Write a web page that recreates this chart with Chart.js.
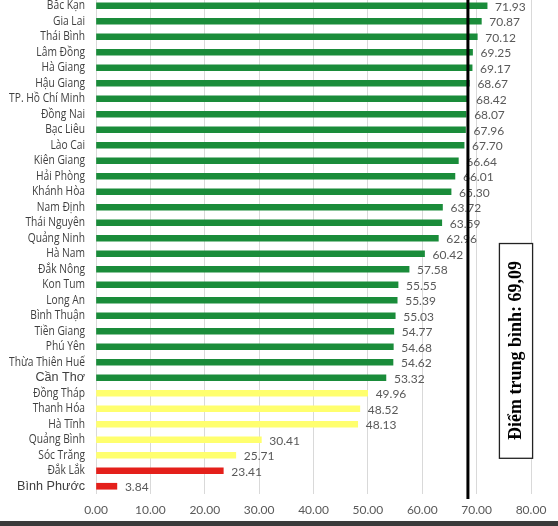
<!DOCTYPE html>
<html>
<head>
<meta charset="utf-8">
<script src="https://cdn.jsdelivr.net/npm/chart.js@4.4.1/dist/chart.umd.min.js"></script>
<style>
    html, body { margin: 0; padding: 0; background: #ffffff; overflow: hidden; }
    #wrap { position: absolute; left: 0; top: -2px; width: 558px; height: 527px; }
    #band { position: absolute; left: 0; top: 521px; width: 558px; height: 5px; background: #3b3b3b; }
</style>
</head>
<body>
<div id="wrap"><canvas id="scoreChart"></canvas></div>
<div id="band"></div>
<script>
// Provinces, top to bottom
const provinces = [
    'Bắc Kạn', 'Gia Lai', 'Thái Bình', 'Lâm Đồng', 'Hà Giang', 'Hậu Giang',
    'TP. Hồ Chí Minh', 'Đồng Nai', 'Bạc Liêu', 'Lào Cai', 'Kiên Giang', 'Hải Phòng',
    'Khánh Hòa', 'Nam Định', 'Thái Nguyên', 'Quảng Ninh', 'Hà Nam', 'Đắk Nông',
    'Kon Tum', 'Long An', 'Bình Thuận', 'Tiền Giang', 'Phú Yên', 'Thừa Thiên Huế',
    'Cần Thơ', 'Đồng Tháp', 'Thanh Hóa', 'Hà Tĩnh', 'Quảng Bình', 'Sóc Trăng',
    'Đắk Lắk', 'Bình Phước'
];

const scores = [
    71.93, 70.87, 70.12, 69.25, 69.17, 68.67,
    68.42, 68.07, 67.96, 67.70, 66.64, 66.01,
    65.30, 63.72, 63.59, 62.96, 60.42, 57.58,
    55.55, 55.39, 55.03, 54.77, 54.68, 54.62,
    53.32, 49.96, 48.52, 48.13, 30.41, 25.71,
    23.41, 3.84
];

const xTicks = [0, 10, 20, 30, 40, 50, 60, 70, 80];

// labels that were typed in a different font in the source
const oddFontLabels = ['Cần Thơ', 'Bình Phước'];

const avgLabel = 'Điểm trung bình: 69,09';
const avgLinePos = 68.4; // where the black line sits in the picture

function barColor(v) {
    if (v >= 50) return '#1a8c3a';
    if (v >= 25) return '#ffff6e';
    return '#e4201b';
}

// Province names, drawn a bit condensed (the source used Calibri)
const provinceLabels = {
    id: 'provinceLabels',
    afterDraw(chart) {
        const ctx = chart.ctx;
        const yScale = chart.scales.y;
        const right = chart.chartArea.left - 11;
        ctx.save();
        ctx.textAlign = 'right';
        ctx.textBaseline = 'middle';
        ctx.fillStyle = '#3f3f3f';
        provinces.forEach((name, i) => {
            const y = yScale.getPixelForValue(i);
            ctx.save();
            ctx.translate(right, y);
            if (oddFontLabels.includes(name)) {
                ctx.font = '13px "Liberation Sans"';
                ctx.scale(0.97, 1);
            } else {
                ctx.font = '12.5px "Open Sans"';
                ctx.scale(0.82, 1);
            }
            ctx.fillText(name, 0, 0);
            ctx.restore();
        });
        ctx.restore();
    }
};

// Value labels at the end of each bar
const valueLabels = {
    id: 'valueLabels',
    afterDatasetsDraw(chart) {
        const ctx = chart.ctx;
        const meta = chart.getDatasetMeta(0);
        ctx.save();
        ctx.font = '12px Lato';
        ctx.fillStyle = '#595959';
        ctx.textBaseline = 'middle';
        ctx.textAlign = 'left';
        meta.data.forEach((bar, i) => {
            ctx.fillText(scores[i].toFixed(2), bar.x + 8, bar.y + 1);
        });
        ctx.restore();
    }
};

// Average line and the boxed caption
const averageMark = {
    id: 'averageMark',
    afterDraw(chart) {
        const ctx = chart.ctx;
        const x = chart.scales.x;
        const area = chart.chartArea;
        const lx = x.getPixelForValue(avgLinePos);

        ctx.save();
        ctx.strokeStyle = '#000000';
        ctx.lineWidth = 3;
        ctx.beginPath();
        ctx.moveTo(lx, 0);
        ctx.lineTo(lx, area.bottom + 5);
        ctx.stroke();

        // caption box
        const bx1 = x.getPixelForValue(74.1);
        const bx2 = x.getPixelForValue(80.2);
        const by1 = area.top + (area.bottom - area.top) * 0.494;
        const by2 = area.top + (area.bottom - area.top) * 0.927;
        ctx.fillStyle = '#ffffff';
        ctx.fillRect(bx1, by1, bx2 - bx1, by2 - by1);
        ctx.lineWidth = 1.3;
        ctx.strokeStyle = '#222222';
        ctx.strokeRect(bx1 + 0.5, by1 + 0.5, bx2 - bx1, by2 - by1);

        ctx.translate((bx1 + bx2) / 2 + 1, (by1 + by2) / 2);
        ctx.rotate(-Math.PI / 2);
        ctx.fillStyle = '#000000';
        ctx.font = 'bold 18px "Liberation Serif"';
        ctx.textAlign = 'center';
        ctx.textBaseline = 'middle';
        ctx.fillText(avgLabel, 0, 0);
        ctx.restore();
    }
};

const scoreChart = new Chart(document.getElementById('scoreChart'), {
    type: 'bar',
    data: {
        labels: provinces,
        datasets: [{
            data: scores,
            backgroundColor: scores.map(barColor),
            borderWidth: 0,
            barThickness: 6
        }]
    },
    options: {
        indexAxis: 'y',
        responsive: true,
        maintainAspectRatio: false,
        animation: false,
        layout: {
            padding: { top: 0, right: 27, bottom: 0, left: 0 }
        },
        plugins: {
            legend: { display: false },
            tooltip: { enabled: false }
        },
        scales: {
            x: {
                min: 0,
                max: 80,
                afterBuildTicks: function(scale) {
                    scale.ticks = xTicks.map(v => ({ value: v }));
                },
                afterFit: function(scale) {
                    scale.height = 31;
                },
                grid: {
                    color: '#d9d9d9',
                    lineWidth: 1,
                    drawTicks: false
                },
                border: { display: false },
                ticks: {
                    color: '#595959',
                    padding: 9,
                    font: { family: 'Lato', size: 12 },
                    callback: function(value) {
                        return Number(value).toFixed(2);
                    }
                }
            },
            y: {
                afterFit: function(scale) {
                    scale.width = 96;
                },
                grid: { display: false },
                border: { display: false },
                ticks: {
                    display: false,
                    padding: 11,
                    autoSkip: false
                }
            }
        }
    },
    plugins: [valueLabels, provinceLabels, averageMark]
});
</script>
</body>
</html>
